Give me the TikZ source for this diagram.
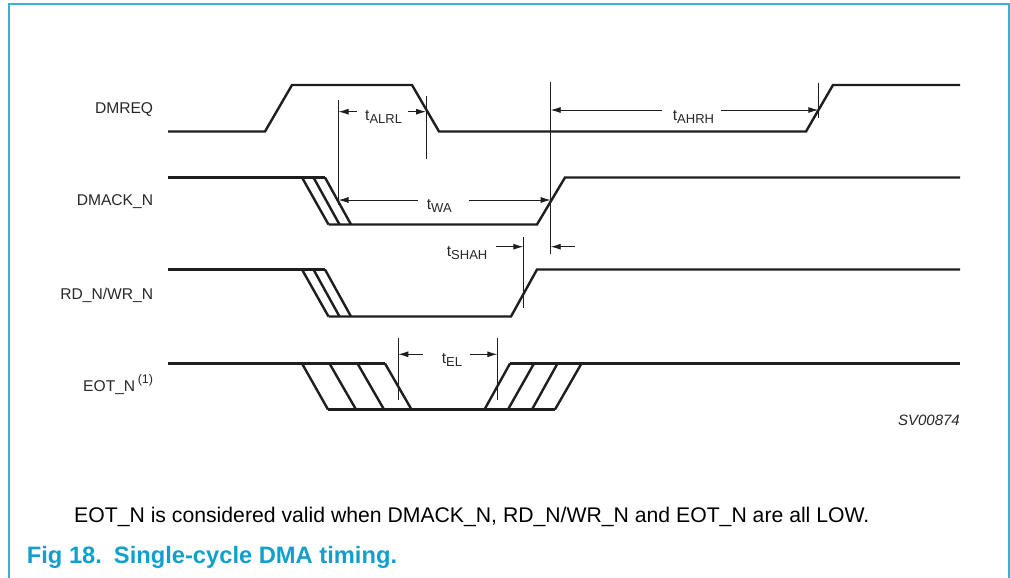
\documentclass[tikz,border=0pt]{standalone}
\usepackage{fontspec}
\setmainfont{Liberation Sans}
\usetikzlibrary{arrows.meta}
\definecolor{nxpblue}{RGB}{16,160,204}
\definecolor{framec}{RGB}{60,175,215}
\definecolor{sig}{RGB}{30,30,30}
\definecolor{txt}{RGB}{40,40,40}
\newcommand\tsub[1]{\raisebox{-0.22em}{\fontsize{13}{13}\selectfont #1}}
\begin{document}
\begin{tikzpicture}[x=1pt,y=-1pt,
  wave/.style={draw=sig,line width=2.4pt,line join=miter},
  dimline/.style={draw=sig,line width=0.9pt},
  dimarrow/.style={draw=sig,line width=0.9pt,-{Latex[length=10pt,width=6pt]}},
  siglabel/.style={anchor=base east,inner sep=0pt,font=\fontsize{15.6}{18}\selectfont,text=txt},
  tlabel/.style={anchor=base west,inner sep=0pt,font=\fontsize{15.6}{18}\selectfont,text=txt}]
\useasboundingbox (0,0) rectangle (1010,578);
\fill[white] (0,0) rectangle (1010,578);
% frame
\draw[framec,line width=2pt] (9,578) -- (9,4.5) -- (1008.5,4.5) -- (1008.5,578);

% signal names
\node[siglabel] (lDMREQ) at (153.3,113.3) {DMREQ};
\node[siglabel] (lDMACK) at (153.3,205.7) {DMACK\_N};
\node[siglabel] (lRDWR) at (153.3,299.3) {RD\_N/WR\_N};
\node[siglabel] (lEOT) at (153.3,391.7) {EOT\_N\,\raisebox{0.5em}{\fontsize{12.5}{13}\selectfont(1)}};

% DMREQ
\draw[wave] (168,131.5) -- (265,131.5) -- (292,85) -- (412,85) -- (439,131.5) -- (806,131.5) -- (833,85) -- (960,85);

% DMACK_N
\draw[wave] (168,177.5) -- (325,177.5);
\draw[wave] (302,177.5) -- (328.5,224.5);
\draw[wave] (313.5,177.5) -- (339.5,224.5);
\draw[wave] (325,177.5) -- (351,224.5);
\draw[wave] (328.5,224.5) -- (537,224.5) -- (565,177.5) -- (960,177.5);

% RD_N/WR_N
\draw[wave] (168,269.5) -- (325,269.5);
\draw[wave] (302,269.5) -- (328.5,316.5);
\draw[wave] (313.5,269.5) -- (339.5,316.5);
\draw[wave] (325,269.5) -- (351,316.5);
\draw[wave] (328.5,316.5) -- (511,316.5) -- (537,269.5) -- (960,269.5);

% EOT_N
\draw[wave] (168,363.5) -- (385,363.5);
\draw[wave] (302,363.5) -- (328,409.5);
\draw[wave] (329.5,363.5) -- (356,409.5);
\draw[wave] (357.5,363.5) -- (384,409.5);
\draw[wave] (385,363.5) -- (411.5,409.5);
\draw[wave] (328,409.5) -- (555,409.5);
\draw[wave] (484.5,409.5) -- (510,363.5);
\draw[wave] (508,409.5) -- (534,363.5);
\draw[wave] (532,409.5) -- (557.5,363.5);
\draw[wave] (555,409.5) -- (581.5,363.5);
\draw[wave] (510,363.5) -- (960,363.5);

% reference verticals
\coordinate (v1t) at (338.5,100.5); \coordinate (v1b) at (338.5,205);
\coordinate (v2t) at (426,96.5);    \coordinate (v2b) at (426,158.5);
\coordinate (v3t) at (550.7,82.5);  \coordinate (v3b) at (550.7,253.5);
\coordinate (v4t) at (818.3,82.7);  \coordinate (v4b) at (818.3,118.3);
\coordinate (v5t) at (523.3,237.3); \coordinate (v5b) at (523.3,308.3);
\coordinate (v6t) at (398.3,338.3); \coordinate (v6b) at (398.3,400);
\coordinate (v7t) at (497.3,338.3); \coordinate (v7b) at (497.3,400);
\foreach \v in {v1,v2,v3,v4,v5,v6,v7} \draw[dimline] (\v t) -- (\v b);

% timing labels
\node[tlabel] (tALRL) at (365,120.5) {t\tsub{ALRL}};
\node[tlabel] (tWA) at (426.7,209.5) {t\tsub{WA}};
\node[tlabel] (tAHRH) at (672.7,120.5) {t\tsub{AHRH}};
\node[tlabel] (tSHAH) at (446.7,256.5) {t\tsub{SHAH}};
\node[tlabel] (tEL) at (441.7,363.5) {t\tsub{EL}};

% dimension arrows
\coordinate (a1) at (357,111.7);  \draw[dimarrow] (a1) -- (v1t |- a1);
\coordinate (a2) at (408.3,111.7);\draw[dimarrow] (a2) -- (v2t |- a2);
\coordinate (a3) at (418,200);    \draw[dimarrow] (a3) -- (v1t |- a3);
\coordinate (a4) at (469,200);    \draw[dimarrow] (a4) -- (v3t |- a4);
\coordinate (a5) at (661.7,110);  \draw[dimarrow] (a5) -- (v3t |- a5);
\coordinate (a6) at (720.7,110);  \draw[dimarrow] (a6) -- (v4t |- a6);
\coordinate (a7) at (496,246.7);  \draw[dimarrow] (a7) -- (v5t |- a7);
\coordinate (a8) at (575,246.7);  \draw[dimarrow] (a8) -- (v3t |- a8);
\coordinate (a9) at (422.7,354.3);\draw[dimarrow] (a9) -- (v6t |- a9);
\coordinate (a10) at (470,354.3); \draw[dimarrow] (a10) -- (v7t |- a10);

% figure id
\node[anchor=base east,inner sep=0pt,font=\fontsize{15}{17}\selectfont\itshape,text=txt] (svid) at (960,425) {SV00874};

% note and caption
\node[anchor=base west,inner sep=0pt,font=\fontsize{21.2}{24}\selectfont,text=black] (note) at (74,522.7) {EOT\_N is considered valid when DMACK\_N, RD\_N/WR\_N and EOT\_N are all LOW.};
\node[anchor=base west,inner sep=0pt,font=\fontsize{23.7}{26}\selectfont\bfseries,text=nxpblue] (caption) at (26.7,563) {Fig 18.\hspace{12pt}Single-cycle DMA timing.};
\end{tikzpicture}
\end{document}
